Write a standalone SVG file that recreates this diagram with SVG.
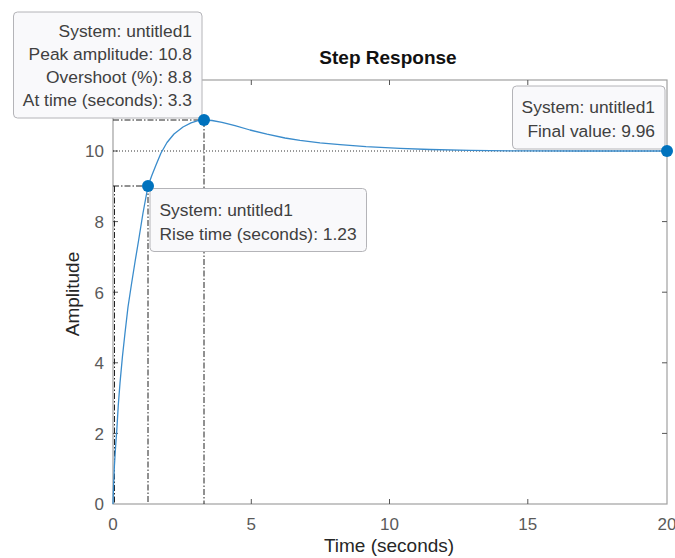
<svg xmlns="http://www.w3.org/2000/svg" width="675" height="558" viewBox="0 0 675 558">
  <style>
    .tick-label { font-family: "Liberation Sans", Arial, sans-serif; font-size: 17px; fill: #5a5a5a; }
    .axis-title { font-family: "Liberation Sans", Arial, sans-serif; font-size: 19px; fill: #262626; }
    .title { font-family: "Liberation Sans", Arial, sans-serif; font-size: 19px; font-weight: bold; fill: #111; }
    .tip-box { fill: #f9f9fb; stroke: #b4b4b8; stroke-width: 1; }
    .tip-text { font-family: "Liberation Sans", Arial, sans-serif; font-size: 17.4px; fill: #404040; }
    .guide { fill: none; stroke: #222; stroke-width: 1; stroke-dasharray: 6 2 1.5 2; }
    .final-line { fill: none; stroke: #333; stroke-width: 1; stroke-dasharray: 1 2; }
    .marker { fill: #0072BD; }
    .frame { fill: none; stroke: #a0a0a0; stroke-width: 1.2; }
    .tick { stroke: #555; stroke-width: 1; }
  </style>

  <rect x="0" y="0" width="675" height="558" fill="#ffffff"/>

  <!-- axes frame -->
  <rect class="frame" x="113" y="80" width="554" height="424"/>

  <!-- ticks: x at 0..20 step 5, y at 0..12 step 2 -->
  <g id="ticks">
    <path class="tick" d="M251.3 504v-5M389.5 504v-5M527.8 504v-5M251.3 80v5M389.5 80v5M527.8 80v5"/>
    <path class="tick" d="M113 433.4h5M113 362.8h5M113 292.2h5M113 221.6h5M113 151h5M662 433.4h5M662 362.8h5M662 292.2h5M662 221.6h5M662 151h5"/>
  </g>

  <g id="tick-labels">
    <text class="tick-label" x="113" y="530" text-anchor="middle">0</text>
    <text class="tick-label" x="251.3" y="530" text-anchor="middle">5</text>
    <text class="tick-label" x="389.5" y="530" text-anchor="middle">10</text>
    <text class="tick-label" x="527.8" y="530" text-anchor="middle">15</text>
    <text class="tick-label" x="667" y="530" text-anchor="middle">20</text>
    <text class="tick-label" x="104" y="510" text-anchor="end">0</text>
    <text class="tick-label" x="104" y="439.5" text-anchor="end">2</text>
    <text class="tick-label" x="104" y="369" text-anchor="end">4</text>
    <text class="tick-label" x="104" y="298.5" text-anchor="end">6</text>
    <text class="tick-label" x="104" y="228" text-anchor="end">8</text>
    <text class="tick-label" x="104" y="157" text-anchor="end">10</text>
  </g>

  <text class="title" x="388" y="64" text-anchor="middle">Step Response</text>
  <text class="axis-title" x="389" y="552" text-anchor="middle">Time (seconds)</text>
  <text class="axis-title" transform="translate(79 294) rotate(-90)" text-anchor="middle">Amplitude</text>

  <!-- characteristic guide lines -->
  <g id="connectors">
    <path class="final-line" d="M113 151H667"/>
    <path class="guide" d="M113 120H204V504"/>
    <path class="guide" d="M113 186H148V504"/>
    <path class="guide" d="M114.5 186V504"/>
  </g>

  <!-- step response curve -->
  <path id="response" fill="none" stroke="#3a8ccc" stroke-width="1.3" stroke-linejoin="round"
        d="M113 504 L113.6 485 L114.4 466 L115.5 448 L116.8 430 L118.3 405 L120 383 L122.4 357 L125 333 L128 307 L131.5 284 L135 262 L138.5 241 L143 213 L148 186 L152 175 L156 165 L161 153 L167 142.5 L174 134 L183 127 L191 122.8 L198 120.6 L204 120 L212 120.5 L222 122.3 L235 125.6 L250 130 L267 134.2 L285 138 L300 140.4 L320 142.8 L340 144.6 L366 146.6 L400 148.3 L430 149.5 L470 150.4 L520 150.9 L580 151 L667 151"/>

  <!-- data tip: peak -->
  <g id="tip-peak">
    <rect class="tip-box" x="13.5" y="12" width="188.5" height="106" rx="4"/>
    <text class="tip-text" x="192" y="37" text-anchor="end">System: untitled1</text>
    <text class="tip-text" x="192" y="60" text-anchor="end">Peak amplitude: 10.8</text>
    <text class="tip-text" x="192" y="83" text-anchor="end">Overshoot (%): 8.8</text>
    <text class="tip-text" x="192" y="106" text-anchor="end">At time (seconds): 3.3</text>
    <circle class="marker" cx="204" cy="120" r="6"/>
  </g>

  <!-- data tip: final value -->
  <g id="tip-final">
    <rect class="tip-box" x="512.5" y="86" width="152.5" height="63" rx="4"/>
    <text class="tip-text" x="655" y="113" text-anchor="end">System: untitled1</text>
    <text class="tip-text" x="655" y="137" text-anchor="end">Final value: 9.96</text>
    <circle class="marker" cx="667" cy="151" r="6"/>
  </g>

  <!-- data tip: rise time -->
  <g id="tip-rise">
    <rect class="tip-box" x="150" y="188.5" width="216.5" height="63" rx="4"/>
    <text class="tip-text" x="159.5" y="216" text-anchor="start">System: untitled1</text>
    <text class="tip-text" x="159.5" y="240" text-anchor="start">Rise time (seconds): 1.23</text>
    <circle class="marker" cx="148" cy="186" r="6"/>
  </g>
</svg>
